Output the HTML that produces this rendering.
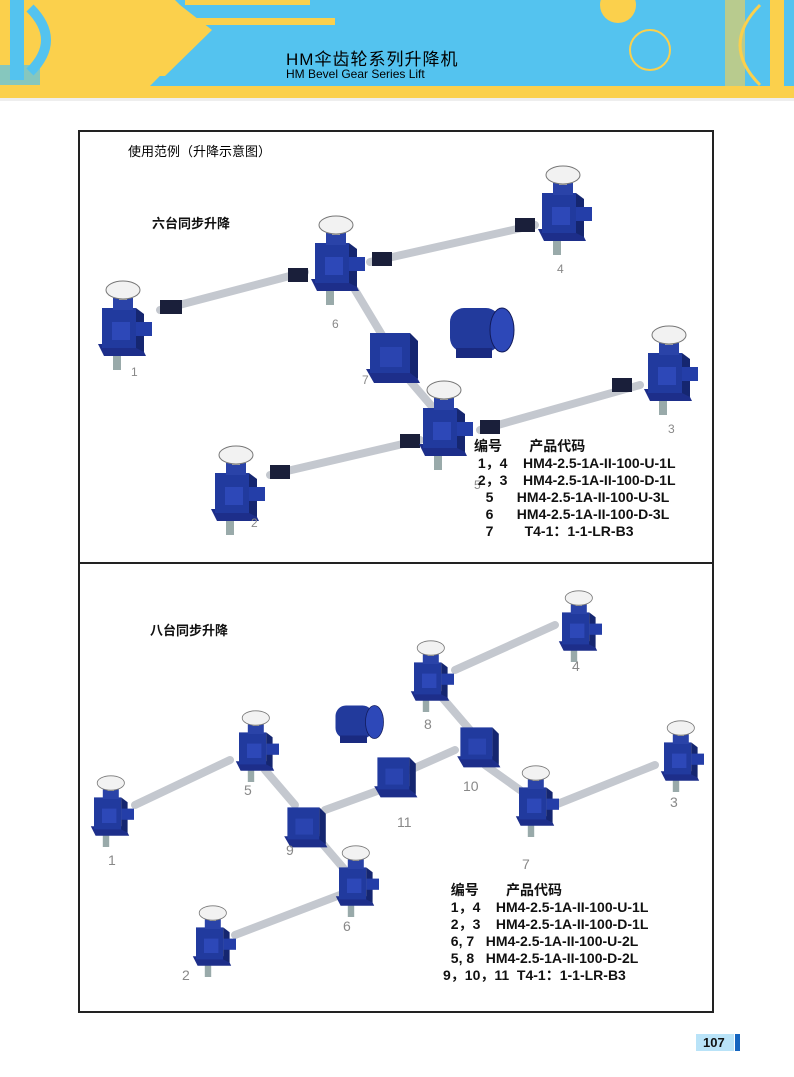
<!DOCTYPE html>
<html><head><meta charset="utf-8"><style>
body{margin:0;width:794px;height:1077px;background:#fff;position:relative;overflow:hidden;font-family:"Liberation Sans","Noto Sans CJK SC",sans-serif}
.t{position:absolute;white-space:nowrap}
.b{font-weight:bold;color:#111}
</style></head><body>
<svg width="794" height="1077" style="position:absolute;left:0;top:0">
<defs>
<g id="jack">
 <rect x="-9" y="18" width="8" height="22" fill="#9aa"/>
 <path d="M-24 14 L18 14 L24 26 L-18 26 Z" fill="#1d2e8a"/>
 <rect x="-20" y="-22" width="34" height="40" fill="#213a9e"/>
 <path d="M14 -22 L22 -16 L22 22 L14 18 Z" fill="#152670"/>
 <rect x="-10" y="-8" width="18" height="18" fill="#2d48b8"/>
 <rect x="14" y="-8" width="16" height="14" fill="#243ea8"/>
 <rect x="-9" y="-32" width="20" height="12" fill="#2a43a8"/>
 <rect x="-3" y="-36" width="8" height="6" fill="#aaa"/>
 <ellipse cx="1" cy="-40" rx="17" ry="9" fill="#f2f2f2" stroke="#777" stroke-width="1"/>
</g>
<g id="red">
 <path d="M-26 14 L20 14 L28 28 L-18 28 Z" fill="#1d2e8a"/>
 <rect x="-22" y="-22" width="40" height="40" fill="#213a9e"/>
 <path d="M18 -22 L26 -14 L26 24 L18 18 Z" fill="#152670"/>
 <rect x="-12" y="-8" width="22" height="20" fill="#2a44b0"/>
</g>
<g id="motor">
 <rect x="-30" y="-22" width="50" height="44" rx="14" fill="#223a9c"/>
 <ellipse cx="22" cy="0" rx="12" ry="22" fill="#2d48b8" stroke="#111a5a"/>
 <rect x="-24" y="18" width="36" height="10" fill="#1a2a80"/>
</g>
</defs>
<!-- header -->
<rect x="0" y="0" width="794" height="98" fill="#fbd04c"/>
<path d="M175 0 L794 0 L794 86 L150 86 L205 30 Z" fill="#54c3ef"/>
<rect x="185" y="0" width="125" height="5" fill="#fbd04c"/>
<rect x="190" y="18" width="145" height="7" fill="#fbd04c"/>
<path d="M180 5 L212 30 L165 76 L158 76 L204 30 L176 5Z" fill="#fbd04c"/>
<rect x="0" y="86" width="794" height="12" fill="#fbd04c"/>
<rect x="0" y="98" width="794" height="3" fill="#eee"/>
<rect x="10" y="0" width="14" height="80" fill="#54c3ef"/>
<path d="M30 8 Q62 40 30 72" stroke="#54c3ef" stroke-width="10" fill="none"/>
<rect x="0" y="65" width="40" height="20" fill="#54c3ef" opacity=".7"/>
<circle cx="618" cy="5" r="18" fill="#fbd04c"/>
<circle cx="650" cy="50" r="20" fill="none" stroke="#fbd04c" stroke-width="2"/>
<rect x="725" y="0" width="20" height="86" fill="#fbd04c" opacity=".6"/>
<path d="M760 5 Q720 45 760 85" stroke="#fbd04c" stroke-width="3" fill="none"/>
<rect x="770" y="0" width="14" height="86" fill="#fbd04c"/>
<!-- frame -->
<rect x="79" y="131" width="634" height="881" fill="none" stroke="#222" stroke-width="2"/>
<line x1="79" y1="563" x2="713" y2="563" stroke="#222" stroke-width="2"/>
<g stroke="#c4c8cf" stroke-width="8" stroke-linecap="round">
<line x1="160" y1="310" x2="305" y2="272"/><line x1="370" y1="262" x2="535" y2="225"/>
<line x1="355" y1="290" x2="385" y2="340"/><line x1="405" y1="375" x2="435" y2="410"/>
<line x1="480" y1="430" x2="640" y2="385"/><line x1="270" y1="475" x2="420" y2="440"/>
<line x1="455" y1="670" x2="555" y2="625"/><line x1="440" y1="695" x2="470" y2="730"/>
<line x1="455" y1="750" x2="410" y2="770"/><line x1="380" y1="790" x2="325" y2="810"/>
<line x1="265" y1="770" x2="295" y2="805"/><line x1="135" y1="805" x2="230" y2="760"/>
<line x1="485" y1="765" x2="520" y2="790"/><line x1="555" y1="805" x2="655" y2="765"/>
<line x1="315" y1="835" x2="345" y2="870"/><line x1="340" y1="895" x2="235" y2="935"/>
</g>
<g fill="#1a1f3a">
<rect x="160" y="300" width="22" height="14"/><rect x="288" y="268" width="20" height="14"/>
<rect x="372" y="252" width="20" height="14"/><rect x="515" y="218" width="20" height="14"/>
<rect x="612" y="378" width="20" height="14"/><rect x="270" y="465" width="20" height="14"/>
<rect x="400" y="434" width="20" height="14"/><rect x="480" y="420" width="20" height="14"/>
</g>
<use href="#jack" x="122" y="330"/>
<use href="#jack" x="335" y="265"/>
<use href="#jack" x="562" y="215"/>
<use href="#red" x="392" y="355"/>
<use href="#motor" x="480" y="330"/>
<use href="#jack" x="443" y="430"/>
<use href="#jack" x="668" y="375"/>
<use href="#jack" x="235" y="495"/>
<use href="#jack" transform="translate(578,630) scale(.8)"/>
<use href="#jack" transform="translate(430,680) scale(.8)"/>
<use href="#jack" transform="translate(255,750) scale(.8)"/>
<use href="#jack" transform="translate(680,760) scale(.8)"/>
<use href="#jack" transform="translate(535,805) scale(.8)"/>
<use href="#jack" transform="translate(110,815) scale(.8)"/>
<use href="#jack" transform="translate(355,885) scale(.8)"/>
<use href="#jack" transform="translate(212,945) scale(.8)"/>
<use href="#red" transform="translate(478,745) scale(.8)"/>
<use href="#red" transform="translate(395,775) scale(.8)"/>
<use href="#red" transform="translate(305,825) scale(.8)"/>
<use href="#motor" transform="translate(358,722) scale(.75)"/>
<rect x="696" y="1034" width="38" height="17" fill="#b9e3f8"/>
<rect x="735" y="1034" width="5" height="17" fill="#1565c0"/>
</svg>
<div class="t" style="left:286px;top:45px;font-size:17px;letter-spacing:1px">HM伞齿轮系列升降机</div>
<div class="t" style="left:286px;top:67px;font-size:12px">HM Bevel Gear Series Lift</div>
<div class="t" style="left:128px;top:141px;font-size:13px">使用范例（升降示意图）</div>
<div class="t b" style="left:152px;top:213px;font-size:13px">六台同步升降</div>
<div class="t b" style="left:150px;top:620px;font-size:13px">八台同步升降</div>
<div style="position:absolute;color:#888;font-size:12px">
<span class="t" style="left:131px;top:365px">1</span><span class="t" style="left:332px;top:317px">6</span>
<span class="t" style="left:557px;top:262px">4</span><span class="t" style="left:362px;top:373px">7</span>
<span class="t" style="left:474px;top:478px">5</span><span class="t" style="left:668px;top:422px">3</span>
<span class="t" style="left:251px;top:516px">2</span>
<span class="t" style="left:572px;top:658px;font-size:14px">4</span><span class="t" style="left:424px;top:716px;font-size:14px">8</span>
<span class="t" style="left:244px;top:782px;font-size:14px">5</span><span class="t" style="left:463px;top:778px;font-size:14px">10</span>
<span class="t" style="left:397px;top:814px;font-size:14px">11</span><span class="t" style="left:670px;top:794px;font-size:14px">3</span>
<span class="t" style="left:286px;top:842px;font-size:14px">9</span><span class="t" style="left:522px;top:856px;font-size:14px">7</span>
<span class="t" style="left:108px;top:852px;font-size:14px">1</span><span class="t" style="left:343px;top:918px;font-size:14px">6</span>
<span class="t" style="left:182px;top:967px;font-size:14px">2</span>
</div>
<div class="t b" style="left:474px;top:438px;font-size:14px;line-height:17px">编号&nbsp;&nbsp;&nbsp;&nbsp;&nbsp;&nbsp;&nbsp;产品代码<br>&nbsp;1，4&nbsp;&nbsp;&nbsp;&nbsp;HM4-2.5-1A-II-100-U-1L<br>&nbsp;2，3&nbsp;&nbsp;&nbsp;&nbsp;HM4-2.5-1A-II-100-D-1L<br>&nbsp;&nbsp;&nbsp;5&nbsp;&nbsp;&nbsp;&nbsp;&nbsp;&nbsp;HM4-2.5-1A-II-100-U-3L<br>&nbsp;&nbsp;&nbsp;6&nbsp;&nbsp;&nbsp;&nbsp;&nbsp;&nbsp;HM4-2.5-1A-II-100-D-3L<br>&nbsp;&nbsp;&nbsp;7&nbsp;&nbsp;&nbsp;&nbsp;&nbsp;&nbsp;&nbsp;&nbsp;T4-1：1-1-LR-B3</div>
<div class="t b" style="left:443px;top:882px;font-size:14px;line-height:17px">&nbsp;&nbsp;编号&nbsp;&nbsp;&nbsp;&nbsp;&nbsp;&nbsp;&nbsp;产品代码<br>&nbsp;&nbsp;1，4&nbsp;&nbsp;&nbsp;&nbsp;HM4-2.5-1A-II-100-U-1L<br>&nbsp;&nbsp;2，3&nbsp;&nbsp;&nbsp;&nbsp;HM4-2.5-1A-II-100-D-1L<br>&nbsp;&nbsp;6, 7&nbsp;&nbsp;&nbsp;HM4-2.5-1A-II-100-U-2L<br>&nbsp;&nbsp;5, 8&nbsp;&nbsp;&nbsp;HM4-2.5-1A-II-100-D-2L<br>9，10，11&nbsp;&nbsp;T4-1：1-1-LR-B3</div>
<div class="t b" style="left:703px;top:1035px;font-size:13px">107</div>
</body></html>
